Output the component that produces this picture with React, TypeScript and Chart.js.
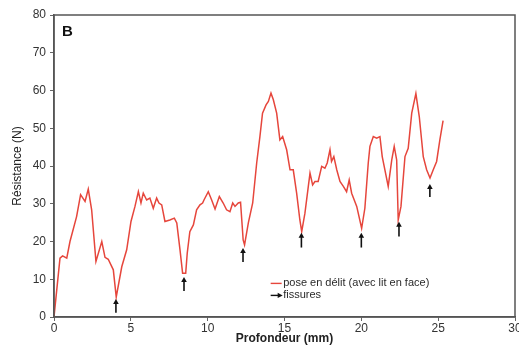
import React, { useEffect, useRef } from "react";
import { Chart, registerables } from "chart.js";

Chart.register(...registerables);

// Depth (mm) and resistance (N) for the curve
const depth = [
  0, 0.39, 0.56, 0.83, 1.04, 1.47, 1.73, 2.02, 2.23, 2.45, 2.73, 3.11, 3.32, 3.53, 3.86, 4.05,
  4.41, 4.73, 5.01, 5.27, 5.49, 5.66, 5.81, 6.03, 6.24, 6.46, 6.68, 6.83, 7.01, 7.22, 7.54, 7.83,
  7.99, 8.2, 8.37, 8.57, 8.67, 8.84, 9.07, 9.28, 9.5, 9.67, 9.76, 10.04, 10.26, 10.48, 10.76,
  11.01, 11.23, 11.45, 11.63, 11.78, 11.99, 12.14, 12.31, 12.4, 12.65, 12.93, 13.19, 13.4, 13.57,
  13.8, 13.95, 14.12, 14.27, 14.49, 14.7, 14.88, 15.14, 15.36, 15.57, 15.79, 16.0, 16.12, 16.33,
  16.55, 16.66, 16.83, 16.98, 17.19, 17.42, 17.63, 17.78, 17.96, 18.06, 18.21, 18.4, 18.61, 18.83,
  19.04, 19.21, 19.37, 19.7, 20.02, 20.23, 20.45, 20.56, 20.78, 21.0, 21.21, 21.36, 21.75, 21.98,
  22.14, 22.3, 22.4, 22.58, 22.84, 23.05, 23.28, 23.55, 23.77, 24.03, 24.25, 24.47, 24.68, 24.9,
  25.11, 25.32,
];
const resistance = [
  0, 15.6, 16.2, 15.6, 20, 26.6, 32.4, 30.6, 33.9, 28.4, 14.7, 20, 15.8, 15.3, 12.5, 5.3,
  13.3, 17.8, 25.3, 29.3, 33.2, 30.2, 32.8, 31, 31.5, 28.8, 31.5, 30.2, 29.7, 25.3, 25.7, 26.2,
  24.9, 17.8, 11.6, 11.6, 16.9, 22.6, 24.4, 28.4, 29.7, 30.2, 31, 33.2, 31, 28.6, 31.9,
  30.2, 28.4, 27.9, 30.2, 29.3, 30.2, 30.4, 20.4, 19.1, 25, 30.2, 40.8, 47.8, 54,
  56.2, 57.1, 59.3, 57.6, 54, 46.9, 47.8, 44.3, 39, 39, 32.8, 25.7, 22.6, 27.5,
  34.6, 38.1, 35, 35.9, 35.9, 39.9, 39.4, 40.8, 44.3, 41.2, 42.5, 39, 35.9, 34.6,
  33.2, 36.3, 32.8, 29.3, 23.5, 28.8, 40.8, 45.2, 47.8, 47.4, 47.8, 42.5, 34.6, 41.6,
  45.2, 41.6, 25.7, 29.3, 42.5, 44.7, 54, 59.2, 53.1, 42.5, 39, 36.8, 39, 41.2,
  46.9, 52,
];

// Crack arrows (fissures): depth, tip value, arrow length (N units)
const crackDepth = [4.03, 8.46, 12.3, 16.1, 20.0, 22.45, 24.46];
const crackTip = [4.8, 10.6, 18.3, 22.3, 22.3, 25.2, 35.2];
const crackLength = [3.7, 3.7, 3.7, 3.9, 3.9, 3.9, 3.4];

const xTicks = [0, 5, 10, 15, 20, 25, 30];
const yTicks = [0, 10, 20, 30, 40, 50, 60, 70, 80];

const seriesLabel = "pose en délit (avec lit en face)";
const crackLabel = "fissures";
const panelLabel = "B";

const FONT = "'Liberation Sans', Arial, sans-serif";
const RED = "#e6463c";

function drawArrow(ctx: CanvasRenderingContext2D, x: number, yTop: number, yBottom: number) {
  ctx.save();
  ctx.strokeStyle = "#111";
  ctx.fillStyle = "#111";
  ctx.lineWidth = 1.6;
  ctx.beginPath();
  ctx.moveTo(x, yBottom);
  ctx.lineTo(x, yTop + 3);
  ctx.stroke();
  ctx.beginPath();
  ctx.moveTo(x, yTop);
  ctx.lineTo(x - 2.8, yTop + 5);
  ctx.lineTo(x + 2.8, yTop + 5);
  ctx.closePath();
  ctx.fill();
  ctx.restore();
}

const decorPlugin = {
  id: "decor",
  afterDatasetsDraw(chart: any) {
    const { ctx, chartArea, scales } = chart;
    const xs = scales.x;
    const ys = scales.y;
    ctx.save();
    // frame
    ctx.strokeStyle = "#555";
    ctx.lineWidth = 1.5;
    ctx.strokeRect(chartArea.left, chartArea.top, chartArea.right - chartArea.left, chartArea.bottom - chartArea.top);
    // arrows
    for (let i = 0; i < crackDepth.length; i++) {
      const px = xs.getPixelForValue(crackDepth[i]);
      const top = ys.getPixelForValue(crackTip[i]);
      const bottom = ys.getPixelForValue(crackTip[i] - crackLength[i]);
      drawArrow(ctx, px, top, bottom);
    }
    // panel label
    ctx.fillStyle = "#111";
    ctx.font = `bold 15px ${FONT}`;
    ctx.textAlign = "left";
    ctx.textBaseline = "middle";
    ctx.fillText(panelLabel, chartArea.left + 8, chartArea.top + 17);
    // legend
    const lx = xs.getPixelForValue(14.1);
    const ly1 = ys.getPixelForValue(8.9);
    const ly2 = ly1 + 12;
    ctx.strokeStyle = RED;
    ctx.lineWidth = 1.4;
    ctx.beginPath();
    ctx.moveTo(lx, ly1);
    ctx.lineTo(lx + 11, ly1);
    ctx.stroke();
    ctx.strokeStyle = "#111";
    ctx.fillStyle = "#111";
    ctx.lineWidth = 1.4;
    ctx.beginPath();
    ctx.moveTo(lx, ly2);
    ctx.lineTo(lx + 8, ly2);
    ctx.stroke();
    ctx.beginPath();
    ctx.moveTo(lx + 12, ly2);
    ctx.lineTo(lx + 7, ly2 - 2.6);
    ctx.lineTo(lx + 7, ly2 + 2.6);
    ctx.closePath();
    ctx.fill();
    ctx.fillStyle = "#2a2a2a";
    ctx.font = `11px ${FONT}`;
    ctx.textBaseline = "middle";
    ctx.fillText(seriesLabel, lx + 12.5, ly1);
    ctx.fillText(crackLabel, lx + 12.5, ly2);
    ctx.restore();
  },
};

export default function App() {
  const ref = useRef<HTMLCanvasElement | null>(null);
  useEffect(() => {
    if (!ref.current) return;
    const data = depth.map((d, i) => ({ x: d, y: resistance[i] }));
    const chart = new Chart(ref.current, {
      type: "line",
      data: {
        datasets: [
          {
            label: seriesLabel,
            data,
            borderColor: RED,
            borderWidth: 1.5,
            pointRadius: 0,
            tension: 0,
            fill: false,
          },
        ],
      },
      options: {
        animation: false,
        responsive: false,
        layout: { padding: { top: 15, right: 4, left: 0, bottom: 0 } },
        plugins: { legend: { display: false }, tooltip: { enabled: false } },
        scales: {
          x: {
            type: "linear",
            min: 0,
            max: 30,
            afterBuildTicks: (s: any) => {
              s.ticks = xTicks.map((v) => ({ value: v }));
            },
            afterFit: (s: any) => {
              s.height = 30;
              s.paddingRight = 0;
              s.paddingLeft = 0;
            },
            grid: { display: true, drawOnChartArea: false, drawTicks: true, tickLength: 4, color: "#666" },
            border: { display: true, color: "#555", width: 1.5 },
            ticks: { color: "#333", font: { family: FONT, size: 12 }, padding: 0, maxRotation: 0 },
            title: {
              display: true,
              text: "Profondeur (mm)",
              color: "#222",
              font: { family: FONT, size: 12, weight: "bold" },
              padding: { top: 0, bottom: 1 },
            },
          },
          y: {
            type: "linear",
            min: 0,
            max: 80,
            afterBuildTicks: (s: any) => {
              s.ticks = yTicks.map((v) => ({ value: v }));
            },
            afterFit: (s: any) => {
              s.width = 54;
              s.paddingTop = 0;
              s.paddingBottom = 0;
            },
            grid: { display: true, drawOnChartArea: false, drawTicks: true, tickLength: 4, color: "#666" },
            border: { display: true, color: "#555", width: 1.5 },
            ticks: { color: "#333", font: { family: FONT, size: 12 }, padding: 4 },
            title: {
              display: true,
              text: "Résistance (N)",
              color: "#222",
              font: { family: FONT, size: 12 },
              padding: { top: 10, bottom: 0 },
            },
          },
        },
      },
      plugins: [decorPlugin],
    });
    return () => chart.destroy();
  }, []);
  return (
    <div style={{ position: "absolute", left: 0, top: 0, width: 519, height: 347, background: "#fff" }}>
      <canvas ref={ref} width={519} height={347} style={{ display: "block" }} />
    </div>
  );
}
